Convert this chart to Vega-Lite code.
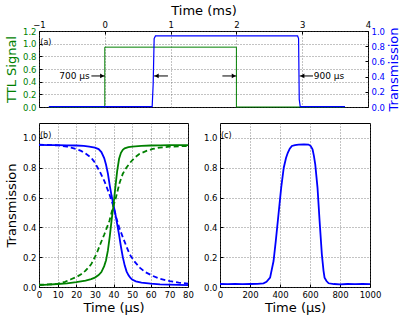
{
  "$schema": "https://vega.github.io/schema/vega-lite/v6.json",
  "background": "white",
  "padding": {"left": 4, "top": 3, "right": 5, "bottom": 5},
  "spacing": 10,
  "config": {
    "font": "DejaVu Sans",
    "view": {"stroke": "black", "strokeWidth": 1},
    "axis": {
      "labelFont": "DejaVu Sans", "labelFontSize": 8.5, "labelColor": "black", "labelOverlap": false, "labelFlush": false,
      "titleFont": "DejaVu Sans", "titleFontSize": 13, "titleFontWeight": "normal", "titleColor": "black",
      "domain": false, "ticks": true, "tickSize": -3, "tickColor": "black", "labelPadding": 6,
      "titlePadding": 4, "gridColor": "#555", "gridDash": [1, 2], "gridWidth": 0.7, "gridOpacity": 1
    }
  },
  "datasets": {
    "ttl": [
      {"i": 0, "t": -0.85, "v": 0}, {"i": 1, "t": 0, "v": 0}, {"i": 2, "t": 0, "v": 0.945},
      {"i": 3, "t": 2, "v": 0.945}, {"i": 4, "t": 2, "v": 0}, {"i": 5, "t": 3.65, "v": 0}
    ],
    "trans": [
      {"i": 0, "t": -0.85, "v": 0.005}, {"i": 1, "t": 0.72, "v": 0.005}, {"i": 2, "t": 0.735, "v": 0.3},
      {"i": 3, "t": 0.75, "v": 0.9}, {"i": 4, "t": 0.77, "v": 0.935}, {"i": 5, "t": 2.93, "v": 0.935},
      {"i": 6, "t": 2.945, "v": 0.9}, {"i": 7, "t": 2.955, "v": 0.1}, {"i": 8, "t": 2.97, "v": 0.005},
      {"i": 9, "t": 3.65, "v": 0.005}
    ],
    "arrows": [
      {"t1": -0.204, "t2": 0, "v": 0.49}, {"t1": 0.748, "t2": 0.96, "v": 0.49},
      {"t1": 1.787, "t2": 2.0, "v": 0.49}, {"t1": 2.962, "t2": 3.164, "v": 0.49}
    ],
    "heads": [
      {"t": -0.04, "v": 0.49, "dir": "right"}, {"t": 0.788, "v": 0.49, "dir": "left"},
      {"t": 1.96, "v": 0.49, "dir": "right"}, {"t": 3.002, "v": 0.49, "dir": "left"}
    ],
    "notes": [
      {"t": -0.23, "v": 0.49, "label": "700 μs", "side": "left"},
      {"t": 3.175, "v": 0.49, "label": "900 μs", "side": "right"}
    ],
    "b_blue_solid": [
      {"t": 0, "v": 0.953}, {"t": 5, "v": 0.952}, {"t": 10, "v": 0.951}, {"t": 15, "v": 0.95}, {"t": 20, "v": 0.949},
      {"t": 24, "v": 0.946}, {"t": 27, "v": 0.942}, {"t": 30, "v": 0.935}, {"t": 32, "v": 0.925}, {"t": 33.5, "v": 0.905},
      {"t": 35, "v": 0.865}, {"t": 36, "v": 0.82}, {"t": 37, "v": 0.76}, {"t": 38, "v": 0.68}, {"t": 39, "v": 0.61},
      {"t": 40, "v": 0.55}, {"t": 41, "v": 0.49}, {"t": 42, "v": 0.42}, {"t": 43, "v": 0.35}, {"t": 44, "v": 0.27},
      {"t": 45, "v": 0.2}, {"t": 46, "v": 0.145}, {"t": 47, "v": 0.105}, {"t": 48, "v": 0.08}, {"t": 49, "v": 0.062},
      {"t": 50, "v": 0.05}, {"t": 52, "v": 0.038}, {"t": 55, "v": 0.029}, {"t": 60, "v": 0.022}, {"t": 65, "v": 0.018},
      {"t": 70, "v": 0.016}, {"t": 75, "v": 0.014}, {"t": 80, "v": 0.013}
    ],
    "b_green_solid": [
      {"t": 0, "v": 0.013}, {"t": 5, "v": 0.016}, {"t": 10, "v": 0.02}, {"t": 15, "v": 0.025}, {"t": 20, "v": 0.032},
      {"t": 25, "v": 0.042}, {"t": 28, "v": 0.053}, {"t": 30, "v": 0.063}, {"t": 32, "v": 0.08}, {"t": 33.5, "v": 0.1},
      {"t": 35, "v": 0.14}, {"t": 36, "v": 0.18}, {"t": 37, "v": 0.245}, {"t": 38, "v": 0.34}, {"t": 39, "v": 0.45},
      {"t": 40, "v": 0.55}, {"t": 41, "v": 0.67}, {"t": 42, "v": 0.78}, {"t": 43, "v": 0.86}, {"t": 44, "v": 0.9},
      {"t": 45, "v": 0.92}, {"t": 46, "v": 0.93}, {"t": 48, "v": 0.938}, {"t": 50, "v": 0.942}, {"t": 55, "v": 0.946},
      {"t": 60, "v": 0.949}, {"t": 65, "v": 0.95}, {"t": 70, "v": 0.952}, {"t": 75, "v": 0.951}, {"t": 80, "v": 0.952}
    ],
    "b_blue_dashed": [
      {"t": 0, "v": 0.955}, {"t": 5, "v": 0.953}, {"t": 10, "v": 0.95}, {"t": 15, "v": 0.942}, {"t": 17.2, "v": 0.935},
      {"t": 20, "v": 0.925}, {"t": 22.6, "v": 0.913}, {"t": 25, "v": 0.895}, {"t": 28, "v": 0.868}, {"t": 30, "v": 0.835},
      {"t": 31.5, "v": 0.8}, {"t": 33, "v": 0.765}, {"t": 35.1, "v": 0.711}, {"t": 37.8, "v": 0.622}, {"t": 39.6, "v": 0.555},
      {"t": 41.5, "v": 0.465}, {"t": 43, "v": 0.4}, {"t": 45.1, "v": 0.331}, {"t": 47, "v": 0.27}, {"t": 48.7, "v": 0.219},
      {"t": 51, "v": 0.175}, {"t": 54.1, "v": 0.13}, {"t": 57, "v": 0.1}, {"t": 61.2, "v": 0.074}, {"t": 65, "v": 0.055},
      {"t": 70.2, "v": 0.04}, {"t": 75, "v": 0.03}, {"t": 80, "v": 0.022}
    ],
    "b_green_dashed": [
      {"t": 0, "v": 0.015}, {"t": 5, "v": 0.017}, {"t": 10, "v": 0.021}, {"t": 14, "v": 0.035}, {"t": 17.2, "v": 0.052},
      {"t": 20, "v": 0.066}, {"t": 22.6, "v": 0.085}, {"t": 25, "v": 0.11}, {"t": 28, "v": 0.152}, {"t": 30, "v": 0.2},
      {"t": 31.5, "v": 0.242}, {"t": 33, "v": 0.29}, {"t": 35.1, "v": 0.354}, {"t": 37.8, "v": 0.443}, {"t": 39.6, "v": 0.53},
      {"t": 41, "v": 0.585}, {"t": 43.3, "v": 0.7}, {"t": 45, "v": 0.76}, {"t": 46.9, "v": 0.8}, {"t": 49, "v": 0.835},
      {"t": 51.4, "v": 0.868}, {"t": 54, "v": 0.893}, {"t": 57.7, "v": 0.913}, {"t": 61, "v": 0.926}, {"t": 64.8, "v": 0.935},
      {"t": 70, "v": 0.941}, {"t": 75, "v": 0.944}, {"t": 80, "v": 0.946}
    ],
    "c_blue": [
      {"t": 0, "v": 0.02}, {"t": 50, "v": 0.019}, {"t": 100, "v": 0.02}, {"t": 150, "v": 0.019}, {"t": 200, "v": 0.02},
      {"t": 250, "v": 0.021}, {"t": 290, "v": 0.025}, {"t": 310, "v": 0.035}, {"t": 334, "v": 0.063}, {"t": 357, "v": 0.174},
      {"t": 372, "v": 0.309}, {"t": 390, "v": 0.488}, {"t": 408, "v": 0.667}, {"t": 425, "v": 0.8}, {"t": 440, "v": 0.865},
      {"t": 452, "v": 0.9}, {"t": 465, "v": 0.928}, {"t": 479, "v": 0.946}, {"t": 500, "v": 0.952}, {"t": 524, "v": 0.955},
      {"t": 560, "v": 0.956}, {"t": 590, "v": 0.955}, {"t": 605, "v": 0.945}, {"t": 617, "v": 0.924}, {"t": 626, "v": 0.88},
      {"t": 635, "v": 0.823}, {"t": 650, "v": 0.667}, {"t": 664, "v": 0.443}, {"t": 679, "v": 0.219}, {"t": 690, "v": 0.11},
      {"t": 697, "v": 0.063}, {"t": 710, "v": 0.04}, {"t": 724, "v": 0.025}, {"t": 760, "v": 0.02}, {"t": 800, "v": 0.018},
      {"t": 850, "v": 0.02}, {"t": 900, "v": 0.019}, {"t": 950, "v": 0.02}, {"t": 1000, "v": 0.019}
    ]
  },
  "vconcat": [
    {
      "width": 329, "height": 76,
      "resolve": {"scale": {"y": "independent"}, "axis": {"y": "independent"}},
      "layer": [
        {
          "data": {"name": "ttl"},
          "mark": {"type": "line", "color": "#008000", "strokeWidth": 1},
          "encoding": {
            "x": {"field": "t", "type": "quantitative", "scale": {"domain": [-1, 4], "nice": false},
                  "axis": {"orient": "top", "title": "Time (ms)", "values": [-1, 0, 1, 2, 3, 4], "format": "d", "grid": true, "labelPadding": 5, "titlePadding": 3}},
            "y": {"field": "v", "type": "quantitative", "scale": {"domain": [0, 1.2], "nice": false},
                  "axis": {"orient": "left", "title": "TTL Signal", "values": [0, 0.2, 0.4, 0.6, 0.8, 1.0, 1.2], "format": ".1f",
                           "labelColor": "#008000", "titleColor": "#008000", "grid": true}},
            "order": {"field": "i", "type": "quantitative"}
          }
        },
        {
          "data": {"name": "trans"},
          "mark": {"type": "line", "color": "#0000ff", "strokeWidth": 1.2},
          "encoding": {
            "x": {"field": "t", "type": "quantitative"},
            "y": {"field": "v", "type": "quantitative", "scale": {"domain": [0, 1], "nice": false},
                  "axis": {"orient": "right", "title": "Transmission", "values": [0, 0.2, 0.4, 0.6, 0.8, 1.0], "format": ".1f",
                           "labelColor": "#0000ff", "titleColor": "#0000ff", "grid": false, "titleAngle": 270, "titleBaseline": "top", "titlePadding": 3}},
            "order": {"field": "i", "type": "quantitative"}
          }
        },
        {
          "data": {"name": "arrows"},
          "mark": {"type": "rule", "color": "black", "strokeWidth": 1},
          "encoding": {
            "x": {"field": "t1", "type": "quantitative"},
            "x2": {"field": "t2"},
            "y": {"field": "v", "type": "quantitative", "scale": {"domain": [0, 1.2], "nice": false}, "axis": null}
          }
        },
        {
          "data": {"name": "heads"},
          "mark": {"type": "point", "filled": true, "color": "black", "size": 22, "opacity": 1},
          "encoding": {
            "x": {"field": "t", "type": "quantitative"},
            "y": {"field": "v", "type": "quantitative", "scale": {"domain": [0, 1.2], "nice": false}, "axis": null},
            "shape": {"field": "dir", "type": "nominal", "scale": {"domain": ["right", "left"], "range": ["triangle-right", "triangle-left"]}, "legend": null}
          }
        },
        {
          "data": {"name": "notes"},
          "transform": [{"filter": "datum.side === 'left'"}],
          "mark": {"type": "text", "align": "right", "baseline": "middle", "fontSize": 9, "font": "DejaVu Sans"},
          "encoding": {
            "x": {"field": "t", "type": "quantitative"},
            "y": {"field": "v", "type": "quantitative", "scale": {"domain": [0, 1.2], "nice": false}, "axis": null},
            "text": {"field": "label"}
          }
        },
        {
          "data": {"name": "notes"},
          "transform": [{"filter": "datum.side === 'right'"}],
          "mark": {"type": "text", "align": "left", "baseline": "middle", "fontSize": 9, "font": "DejaVu Sans"},
          "encoding": {
            "x": {"field": "t", "type": "quantitative"},
            "y": {"field": "v", "type": "quantitative", "scale": {"domain": [0, 1.2], "nice": false}, "axis": null},
            "text": {"field": "label"}
          }
        },
        {
          "data": {"values": [{"t": -0.98, "v": 1.007, "label": "(a)"}]},
          "mark": {"type": "text", "align": "left", "baseline": "middle", "fontSize": 8, "font": "DejaVu Sans"},
          "encoding": {
            "x": {"field": "t", "type": "quantitative"},
            "y": {"field": "v", "type": "quantitative", "scale": {"domain": [0, 1.2], "nice": false}, "axis": null},
            "text": {"field": "label"}
          }
        }
      ]
    },
    {
      "spacing": 8,
      "hconcat": [
        {
          "width": 149, "height": 164,
          "encoding": {
            "x": {"field": "t", "type": "quantitative", "scale": {"domain": [0, 80], "nice": false},
                  "axis": {"title": "Time (μs)", "values": [0, 10, 20, 30, 40, 50, 60, 70, 80], "format": "d", "grid": true, "titlePadding": 3}},
            "y": {"field": "v", "type": "quantitative", "scale": {"domain": [0, 1.1], "nice": false},
                  "axis": {"title": "Transmission", "values": [0, 0.2, 0.4, 0.6, 0.8, 1.0], "format": ".1f", "grid": true}}
          },
          "layer": [
            {"data": {"name": "b_blue_solid"}, "mark": {"type": "line", "color": "#0000ff", "strokeWidth": 1.8}},
            {"data": {"name": "b_blue_dashed"}, "mark": {"type": "line", "color": "#0000ff", "strokeWidth": 1.8, "strokeDash": [5, 3]}},
            {"data": {"name": "b_green_solid"}, "mark": {"type": "line", "color": "#008000", "strokeWidth": 1.8}},
            {"data": {"name": "b_green_dashed"}, "mark": {"type": "line", "color": "#008000", "strokeWidth": 1.8, "strokeDash": [5, 3]}},
            {
              "data": {"values": [{"t": 0.5, "v": 1.01, "label": "(b)"}]},
              "mark": {"type": "text", "align": "left", "baseline": "middle", "fontSize": 8, "font": "DejaVu Sans"},
              "encoding": {"text": {"field": "label"}}
            }
          ]
        },
        {
          "width": 150, "height": 164,
          "encoding": {
            "x": {"field": "t", "type": "quantitative", "scale": {"domain": [0, 1000], "nice": false},
                  "axis": {"title": "Time (μs)", "values": [0, 200, 400, 600, 800, 1000], "format": "d", "grid": true, "titlePadding": 3}},
            "y": {"field": "v", "type": "quantitative", "scale": {"domain": [0, 1.1], "nice": false},
                  "axis": {"title": null, "values": [0, 0.2, 0.4, 0.6, 0.8, 1.0], "format": ".1f", "grid": true}}
          },
          "layer": [
            {"data": {"name": "c_blue"}, "mark": {"type": "line", "color": "#0000ff", "strokeWidth": 1.8}},
            {
              "data": {"values": [{"t": 6, "v": 1.01, "label": "(c)"}]},
              "mark": {"type": "text", "align": "left", "baseline": "middle", "fontSize": 8, "font": "DejaVu Sans"},
              "encoding": {"text": {"field": "label"}}
            }
          ]
        }
      ]
    }
  ]
}
